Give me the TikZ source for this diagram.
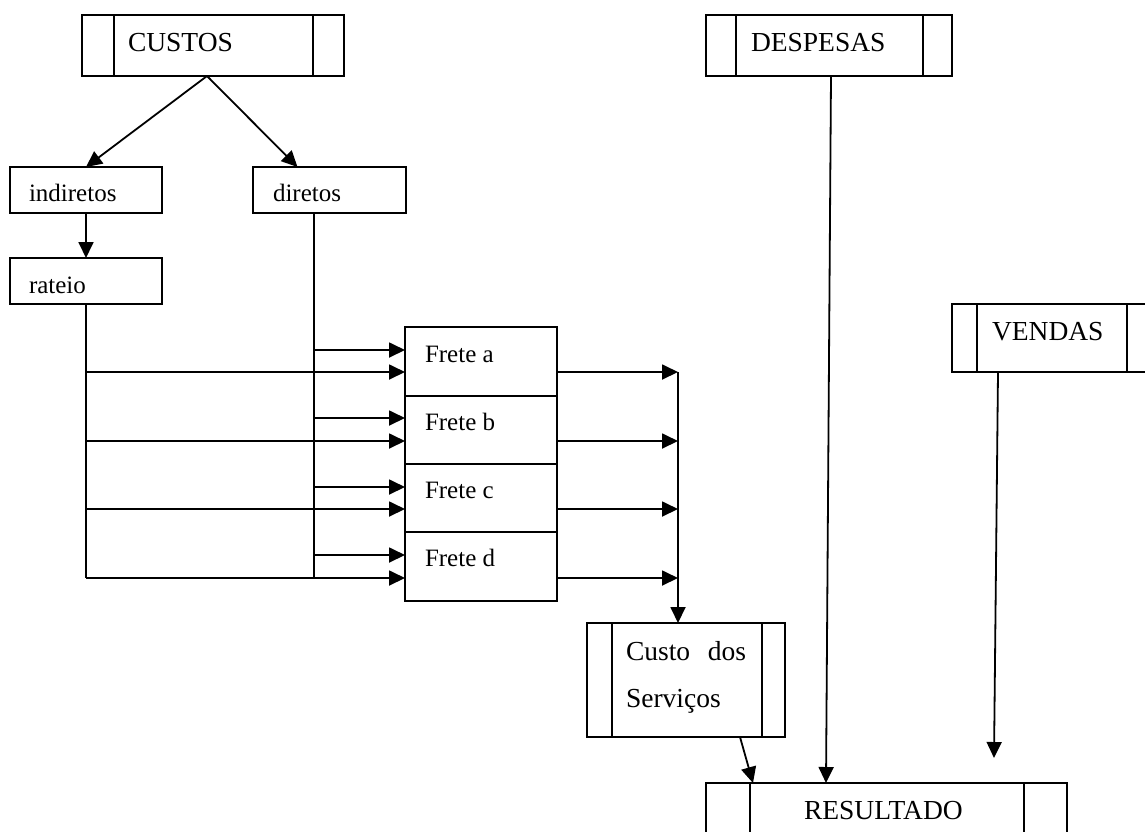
\documentclass[tikz,border=0pt]{standalone}
\usepackage{fontspec}
\setmainfont{Liberation Serif}
\usetikzlibrary{arrows.meta}
\newcommand\capsz{\fontsize{27.5}{33}\selectfont}
\newcommand\lowsz{\fontsize{25}{30}\selectfont}
\begin{document}
\begin{tikzpicture}[x=1pt,y=-1pt,
  box/.style={draw, line width=1.8pt, inner sep=0, outer sep=0, anchor=north west},
  lbl/.style={anchor=base west, inner sep=0, outer sep=0, font=\lowsz},
  clbl/.style={anchor=base west, inner sep=0, outer sep=0, font=\capsz},
  ln/.style={line width=1.8pt},
  arr/.style={line width=1.8pt, -{Triangle[length=16pt,width=15pt]}}]
\useasboundingbox (0,0) rectangle (1145,831);

% boxes
\node[box, minimum width=262pt, minimum height=61pt] (custos) at (82,15) {};
\draw[ln] ([xshift=32pt]custos.north west) -- ([xshift=32pt]custos.south west);
\draw[ln] ([xshift=-31pt]custos.north east) -- ([xshift=-31pt]custos.south east);
\node[clbl] (custos-t) at (128,51) {CUSTOS};

\node[box, minimum width=246pt, minimum height=61pt] (desp) at (706,15) {};
\draw[ln] ([xshift=30pt]desp.north west) -- ([xshift=30pt]desp.south west);
\draw[ln] ([xshift=-29pt]desp.north east) -- ([xshift=-29pt]desp.south east);
\node[clbl] (desp-t) at (751,51) {DESPESAS};

\node[box, minimum width=205pt, minimum height=68pt] (vend) at (952,304) {};
\draw[ln] ([xshift=25pt]vend.north west) -- ([xshift=25pt]vend.south west);
\draw[ln] ([xshift=-30pt]vend.north east) -- ([xshift=-30pt]vend.south east);
\node[clbl] (vend-t) at (992,340) {VENDAS};

\node[box, minimum width=152pt, minimum height=46pt] (ind) at (10,167) {};
\node[lbl] (ind-t) at (29,201) {indiretos};
\node[box, minimum width=153pt, minimum height=46pt] (dir) at (253,167) {};
\node[lbl] (dir-t) at (273,201) {diretos};
\node[box, minimum width=152pt, minimum height=46pt] (rat) at (10,258) {};
\node[lbl] (rat-t) at (29,293) {rateio};

\node[box, minimum width=152pt, minimum height=69pt] (fa) at (405,327) {};
\node[box, minimum width=152pt, minimum height=68pt] (fb) at (405,396) {};
\node[box, minimum width=152pt, minimum height=68pt] (fc) at (405,464) {};
\node[box, minimum width=152pt, minimum height=69pt] (fd) at (405,532) {};
\node[lbl] (fa-t) at (425,362) {Frete a};
\node[lbl] (fb-t) at (425,430) {Frete b};
\node[lbl] (fc-t) at (425,498) {Frete c};
\node[lbl] (fd-t) at (425,566) {Frete d};

\node[box, minimum width=198pt, minimum height=114pt] (cds) at (587,623) {};
\draw[ln] ([xshift=25pt]cds.north west) -- ([xshift=25pt]cds.south west);
\draw[ln] ([xshift=-23pt]cds.north east) -- ([xshift=-23pt]cds.south east);
\node[clbl] (cds-t1) at (626,660) {\makebox[120pt][s]{Custo dos}};
\node[clbl] (cds-t2) at (626,707) {Serviços};

\node[box, minimum width=361pt, minimum height=80pt] (res) at (706,783) {};
\draw[ln] ([xshift=44pt]res.north west) -- ([xshift=44pt]res.south west);
\draw[ln] ([xshift=-43pt]res.north east) -- ([xshift=-43pt]res.south east);
\node[clbl] (res-t) at (804,819) {RESULTADO};

% named points
\coordinate (dtrunk) at (314,213);
\coordinate (coll) at (678,372);
\coordinate (vend-end) at (994,758);
\coordinate (fa-i1) at (405,350); \coordinate (fa-i2) at (405,372);
\coordinate (fb-i1) at (405,418); \coordinate (fb-i2) at (405,441);
\coordinate (fc-i1) at (405,487); \coordinate (fc-i2) at (405,509);
\coordinate (fd-i1) at (405,555); \coordinate (fd-i2) at (405,578);

% connectors
\draw[arr] ([xshift=-6pt]custos.south) -- (ind.north);
\draw[arr] ([xshift=-6pt]custos.south) -- ([xshift=-32pt]dir.north);
\draw[arr] (ind.south) -- (rat.north);

\draw[ln] (dtrunk) -- (dtrunk |- fd-i2);
\draw[ln] (rat.south) -- (rat.south |- fd-i2);
\foreach \f in {fa,fb,fc,fd}{
  \draw[arr] (dtrunk |- \f-i1) -- (\f-i1);
  \draw[arr] (rat.south |- \f-i2) -- (\f-i2);
  \draw[arr] (\f.east |- \f-i2) -- (coll |- \f-i2);
}
\draw[arr] (coll) -- (coll |- cds.north);
\draw[arr] ([xshift=54pt]cds.south) -- ([xshift=-133.5pt]res.north);
\draw[arr] ([xshift=2pt]desp.south) -- ([xshift=-60.5pt]res.north);
\draw[arr] ([xshift=-56.5pt]vend.south) -- (vend-end);
\end{tikzpicture}
\end{document}
